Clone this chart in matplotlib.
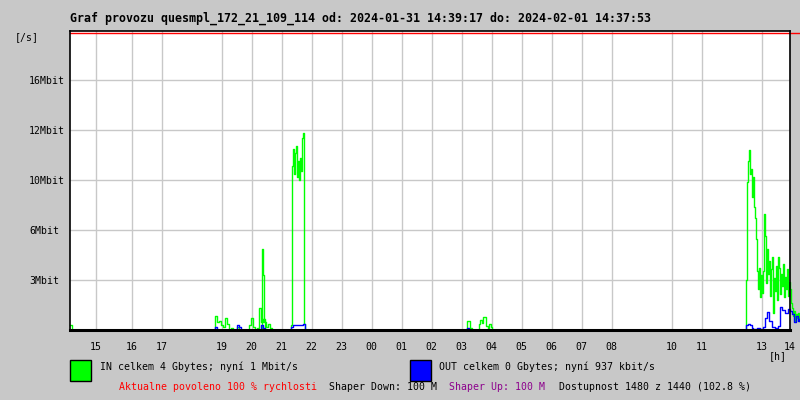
import matplotlib
matplotlib.use("Agg")
import matplotlib.pyplot as plt
from matplotlib.patches import Rectangle

# hours after 2024-01-31 14:39:17, values in Mbit/s
in_time = [0.0, 0.05, 0.1,
           4.77, 4.83, 4.9, 4.97, 5.03, 5.1, 5.17, 5.23, 5.3, 5.37, 5.43, 5.5, 5.57, 5.63, 5.7, 5.77, 5.83,
           5.9, 5.97, 6.03, 6.1, 6.17, 6.23, 6.3, 6.37, 6.43, 6.5,
           6.33, 6.37, 6.4, 6.43, 6.47, 6.53, 6.6, 6.67, 6.73,
           7.33, 7.37, 7.4, 7.43, 7.47, 7.5, 7.53, 7.57, 7.6, 7.63, 7.67, 7.7, 7.73, 7.77, 7.8, 7.83, 7.87, 7.9,
           13.2, 13.23, 13.27, 13.33, 13.4, 13.43,
           13.63, 13.67, 13.73, 13.77, 13.83, 13.87, 13.93, 13.97, 14.03, 14.07,
           22.5, 22.53, 22.57, 22.6, 22.63, 22.67, 22.7, 22.73, 22.77, 22.8, 22.83, 22.87, 22.9, 22.93, 22.97,
           23.0, 23.03, 23.07, 23.1, 23.13, 23.17, 23.2, 23.23, 23.27, 23.3, 23.33, 23.37, 23.4, 23.43, 23.47,
           23.5, 23.53, 23.57, 23.6, 23.63, 23.67, 23.7, 23.73, 23.77, 23.8, 23.83, 23.87, 23.9, 23.93, 23.97,
           24.0, 24.03, 24.07, 24.1, 24.13, 24.17, 24.2, 24.23, 24.27, 24.3]
in_val = [0.3, 0.0, 0.0,
          0.0, 0.9, 0.5, 0.6, 0.3, 0.2, 0.75, 0.4, 0.0, 0.1, 0.0, 0.0, 0.2, 0.0, 0.0, 0.0, 0.0,
          0.0, 0.3, 0.8, 0.2, 0.0, 0.1, 1.4, 0.5, 0.7, 0.0,
          0.0, 0.0, 5.2, 3.5, 0.5, 0.2, 0.4, 0.1, 0.0,
          0.0, 0.3, 10.5, 11.6, 10.0, 11.3, 11.8, 9.8, 10.8, 9.6, 11.0, 10.2, 12.3, 12.6, 0.4, 0.0, 0.0, 0.0,
          0.0, 0.6, 0.6, 0.15, 0.0, 0.0,
          0.4, 0.64, 0.45, 0.85, 0.85, 0.25, 0.0, 0.4, 0.2, 0.0,
          0.0, 3.2, 9.5, 10.8, 11.5, 10.0, 10.3, 8.5, 9.8, 7.9, 7.2, 5.8, 3.8, 2.6, 4.0,
          2.1, 3.5, 2.4, 3.8, 7.4, 6.0, 3.0, 5.2, 3.6, 4.4, 2.2, 3.9, 4.7, 1.1, 3.3,
          2.5, 4.1, 1.9, 4.7, 4.0, 2.3, 3.6, 2.8, 4.2, 2.1, 3.4, 2.6, 3.9, 2.2, 3.1,
          2.6, 1.7, 1.4, 0.9, 1.2, 0.6, 1.0, 0.8, 1.1, 0.6]

out_time = [4.77, 4.83, 4.9, 5.5, 5.57, 5.63, 5.7, 6.33, 6.37, 6.43, 6.5,
            7.33, 7.37, 7.43, 7.6, 7.77, 7.83, 7.9, 13.2, 13.23, 13.3,
            22.5, 22.53, 22.6, 22.67, 22.73, 22.77, 22.9, 23.0, 23.1, 23.17, 23.23, 23.3, 23.4,
            23.5, 23.6, 23.67, 23.73, 23.83, 23.93, 24.0, 24.07, 24.13, 24.2, 24.27, 24.3]
out_val = [0.0, 0.2, 0.0, 0.0, 0.3, 0.2, 0.0, 0.0, 0.3, 0.1, 0.0,
           0.0, 0.2, 0.3, 0.35, 0.4, 0.0, 0.0, 0.0, 0.1, 0.0,
           0.0, 0.3, 0.4, 0.35, 0.1, 0.05, 0.1, 0.05, 0.2, 0.8, 1.15, 0.6, 0.2,
           0.1, 0.25, 1.5, 1.3, 1.1, 1.35, 1.2, 1.0, 0.5, 0.9, 0.6, 0.7]

hour_pos = [0.857, 2.057, 3.057, 5.057, 6.057, 7.057, 8.057, 9.057, 10.057, 11.057, 12.057,
            13.057, 14.057, 15.057, 16.057, 17.057, 18.057, 20.057, 21.057, 23.057, 24.0]
hour_labels = ["15", "16", "17", "19", "20", "21", "22", "23", "00", "01", "02",
               "03", "04", "05", "06", "07", "08", "10", "11", "13", "14"]
y_pos = [3.2, 6.4, 9.6, 12.8, 16.0]
y_labels = ["3Mbit", "6Mbit", "10Mbit", "12Mbit", "16Mbit"]

bg = "#c8c8c8"
mono = "DejaVu Sans Mono"
fs = 7.15

fig = plt.figure(figsize=(8, 4), dpi=100, facecolor=bg)
ax = fig.add_axes([70 / 800, 70 / 400, 720 / 800, 299 / 400])
ax.set_facecolor("white")
ax.set_xlim(0, 24)
ax.set_ylim(0, 19.14)

for p in hour_pos:
    ax.axvline(p, color="#c8c8c8", lw=1, zorder=1)
for p in y_pos:
    ax.axhline(p, color="#c8c8c8", lw=1, zorder=1)

ax.step(in_time, in_val, where="post", color="#00ff00", lw=1, zorder=3, clip_on=False)
ax.step(out_time, out_val, where="post", color="#0000ff", lw=1, zorder=4, clip_on=False)
ax.plot([0, 24.33], [19.02, 19.02], color="red", lw=1, clip_on=False, zorder=5)

ax.set_xticks(hour_pos)
ax.set_xticklabels(hour_labels, family=mono, fontsize=fs)
ax.set_yticks(y_pos)
ax.set_yticklabels(y_labels, family=mono, fontsize=fs, ha="left")
ax.tick_params(axis="x", length=0, pad=9)
ax.tick_params(axis="y", length=0, pad=29.5)
for name, s in ax.spines.items():
    s.set_color("black")
    s.set_linewidth(2.2 if name == "bottom" else 1.2)
    s.set_zorder(10)

fig.text(70 / 800, 1 - 18 / 400, "Graf provozu quesmpl_172_21_109_114 od: 2024-01-31 14:39:17 do: 2024-02-01 14:37:53",
         family=mono, fontweight="bold", fontsize=8.4, va="center", ha="left")
fig.text(15 / 800, 1 - 37 / 400, "[/s]", family=mono, fontsize=fs, va="center", ha="left")
fig.text(778 / 800, 1 - 356 / 400, "[h]", family=mono, fontsize=fs, va="center", ha="center")

fig.patches.append(Rectangle((70 / 800, 19 / 400), 21 / 800, 21 / 400, transform=fig.transFigure,
                             facecolor="#00ff00", edgecolor="black", lw=1))
fig.patches.append(Rectangle((410 / 800, 19 / 400), 21 / 800, 21 / 400, transform=fig.transFigure,
                             facecolor="#0000ff", edgecolor="black", lw=1))
fig.text(100 / 800, 1 - 367 / 400, "IN celkem 4 Gbytes; nyní 1 Mbit/s", family=mono, fontsize=fs, va="center")
fig.text(439 / 800, 1 - 367 / 400, "OUT celkem 0 Gbytes; nyní 937 kbit/s", family=mono, fontsize=fs, va="center")

fig.text(119 / 800, 1 - 387 / 400, "Aktualne povoleno 100 % rychlosti", family=mono, fontsize=fs, va="center", color="red")
fig.text(329 / 800, 1 - 387 / 400, "Shaper Down: 100 M", family=mono, fontsize=fs, va="center", color="black")
fig.text(449 / 800, 1 - 387 / 400, "Shaper Up: 100 M", family=mono, fontsize=fs, va="center", color="#8c008c")
fig.text(559 / 800, 1 - 387 / 400, "Dostupnost 1480 z 1440 (102.8 %)", family=mono, fontsize=fs, va="center", color="black")

fig.savefig("out.png", dpi=100, facecolor=bg)
